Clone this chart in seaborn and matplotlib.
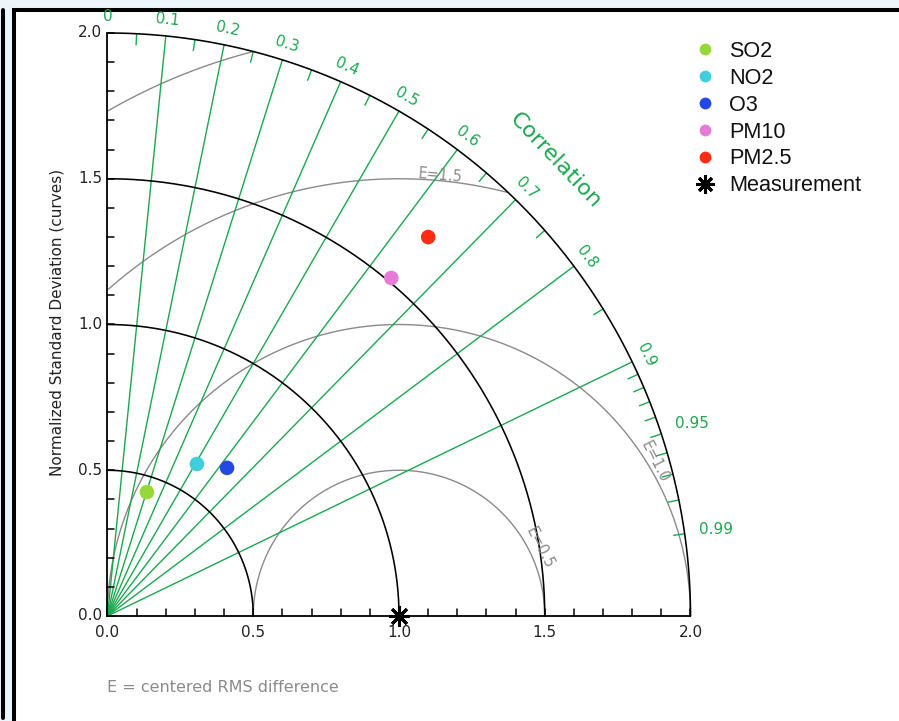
import numpy as np
import pandas as pd
import matplotlib
matplotlib.use("Agg")
import matplotlib.pyplot as plt
import seaborn as sns
from matplotlib.patches import Rectangle
from matplotlib.lines import Line2D

# ---------------- data ----------------
species = ["SO2", "NO2", "O3", "PM10", "PM2.5"]
std_norm = [0.446, 0.605, 0.653, 1.514, 1.703]      # normalized standard deviation
corr = [0.303, 0.507, 0.628, 0.643, 0.646]          # correlation with measurement
colors = ["#95d936", "#3fcfdc", "#2447e6", "#e57bd6", "#ff2c12"]
ref_std = 1.0
ref_label = "Measurement"
std_ticks = [0.0, 0.5, 1.0, 1.5, 2.0]
std_tick_labels = ["0.0", "0.5", "1.0", "1.5", "2.0"]
corr_lines = [0.1, 0.2, 0.3, 0.4, 0.5, 0.6, 0.7, 0.8, 0.9]
corr_labels = [0.0, 0.1, 0.2, 0.3, 0.4, 0.5, 0.6, 0.7, 0.8, 0.9, 0.95, 0.99]
corr_minor = [0.05, 0.15, 0.25, 0.35, 0.45, 0.55, 0.65, 0.75, 0.85,
              0.91, 0.92, 0.93, 0.94, 0.95, 0.96, 0.97, 0.98, 0.99]
rms_levels = [0.5, 1.0, 1.5, 2.0]
rms_labels = ["E=0.5", "E=1.0", "E=1.5", ""]
max_std = 2.0

GREEN = "#1aa84f"
GRAY = "#8a8a8a"

sns.set_theme(style="white")
plt.rcParams["font.family"] = ["DejaVu Sans"]

W, H = 899, 721
fig = plt.figure(figsize=(W / 100, H / 100), dpi=100)
fig.patch.set_facecolor("#ecf5fb")

# frame
fig.patches.append(Rectangle((14 / W, -0.05), 1.2, 711 / H + 0.05, transform=fig.transFigure,
                             facecolor="white", edgecolor="black", linewidth=2.9, zorder=-5))
fig.add_artist(Line2D([2.5 / W, 2.5 / W], [3 / H, 711 / H], transform=fig.transFigure,
                      color="black", linewidth=2.9))

ax = fig.add_axes([0, 0, 1, 1])
ax.set_facecolor("none")
S = 291.5
ox, oy = 107.5, 105.0
ax.set_xlim(-ox / S, (W - ox) / S)
ax.set_ylim(-oy / S, (H - oy) / S)
ax.axis("off")

# standard deviation arcs
th = np.linspace(0, np.pi / 2, 400)
for r in std_ticks[1:]:
    ax.plot(r * np.cos(th), r * np.sin(th), color="black", lw=1.15, zorder=3)

# axes lines
ax.plot([0, max_std], [0, 0], color="black", lw=1.3, zorder=4)
ax.plot([0, 0], [0, max_std], color="black", lw=1.3, zorder=4)
tl = 0.024
for v in np.arange(0, max_std + 0.001, 0.1):
    ax.plot([v, v], [0, tl], color="black", lw=1.1, zorder=4)
    ax.plot([0, tl], [v, v], color="black", lw=1.1, zorder=4)
for v, lab in zip(std_ticks, std_tick_labels):
    ax.text(-0.018, v, lab, ha="right", va="center", fontsize=11, color="#222222")
    ax.text(v, -0.058, lab, ha="center", va="center", fontsize=11, color="#222222")

# correlation lines
for c in corr_lines:
    t = np.arccos(c)
    ax.plot([0, max_std * np.cos(t)], [0, max_std * np.sin(t)], color=GREEN, lw=1.0, zorder=2)
for c in corr_minor:
    t = np.arccos(c)
    ax.plot([1.962 * np.cos(t), max_std * np.cos(t)], [1.962 * np.sin(t), max_std * np.sin(t)],
            color=GREEN, lw=1.0, zorder=2)
for c in corr_labels:
    t = np.arccos(c)
    lab = "0" if c == 0 else ("%g" % c)
    if c >= 0.95:
        r = 2.11
        rot = 0
    else:
        r = 2.055
        rot = np.degrees(t) - 90
    ax.text(r * np.cos(t), r * np.sin(t), lab, ha="center", va="center", rotation=rot,
            rotation_mode="anchor", fontsize=11, color=GREEN)
ax.text(1.535, 1.564, "Correlation", ha="center", va="center", rotation=-46.5,
        rotation_mode="anchor", fontsize=16, color=GREEN)

# centered RMS difference arcs
ph = np.linspace(0, np.pi, 600)
for e in rms_levels:
    x = ref_std + e * np.cos(ph)
    y = e * np.sin(ph)
    m = (x >= 0) & (x ** 2 + y ** 2 <= max_std ** 2 + 1e-9)
    x = np.where(m, x, np.nan)
    y = np.where(m, y, np.nan)
    ax.plot(x, y, color=GRAY, lw=1.0, zorder=1)
rms_pos = [(1.484, 0.233, -63), (1.878, 0.528, -63), (1.141, 1.513, -5)]
for (px, py, rot), lab in zip(rms_pos, rms_labels):
    ax.text(px, py, lab, ha="center", va="center", rotation=rot, rotation_mode="anchor",
            fontsize=10.5, color=GRAY)

# model points
df = pd.DataFrame({"species": species, "std": std_norm, "corr": corr})
df["x"] = df["std"] * df["corr"]
df["y"] = df["std"] * np.sqrt(1 - df["corr"] ** 2)
sns.scatterplot(data=df, x="x", y="y", hue="species", palette=colors, s=110,
                edgecolor="none", legend=False, ax=ax, zorder=6)
ax.plot([ref_std], [0], marker=(8, 2, 0), color="black", ms=15, mew=2.2, ls="", zorder=7,
        clip_on=False)

ax.set_xlim(-ox / S, (W - ox) / S)
ax.set_ylim(-oy / S, (H - oy) / S)
ax.axis("off")

ax.text(-0.173, 1.008, "Normalized Standard Deviation (curves)", rotation=90, ha="center",
        va="center", fontsize=11, color="#222222")
ax.text(0.0, -0.2436, "E = centered RMS difference", ha="left", va="center",
        fontsize=11.5, color=GRAY)

handles = [Line2D([], [], marker="o", ls="", color=c, ms=8.5, mec="none") for c in colors]
handles.append(Line2D([], [], marker=(8, 2, 0), ls="", color="black", ms=13, mew=2.2))
leg = fig.legend(handles, species + [ref_label], loc="upper left",
                 bbox_to_anchor=(694 / W, 1 - 41 / H), bbox_transform=fig.transFigure,
                 frameon=False, borderpad=0, borderaxespad=0, handlelength=1.0,
                 handletextpad=0.62, labelspacing=0.27,
                 prop={"family": "Liberation Sans", "size": 15.6})
for t in leg.get_texts():
    t.set_color("#111111")

fig.savefig("out.png", dpi=100, facecolor=fig.get_facecolor())
